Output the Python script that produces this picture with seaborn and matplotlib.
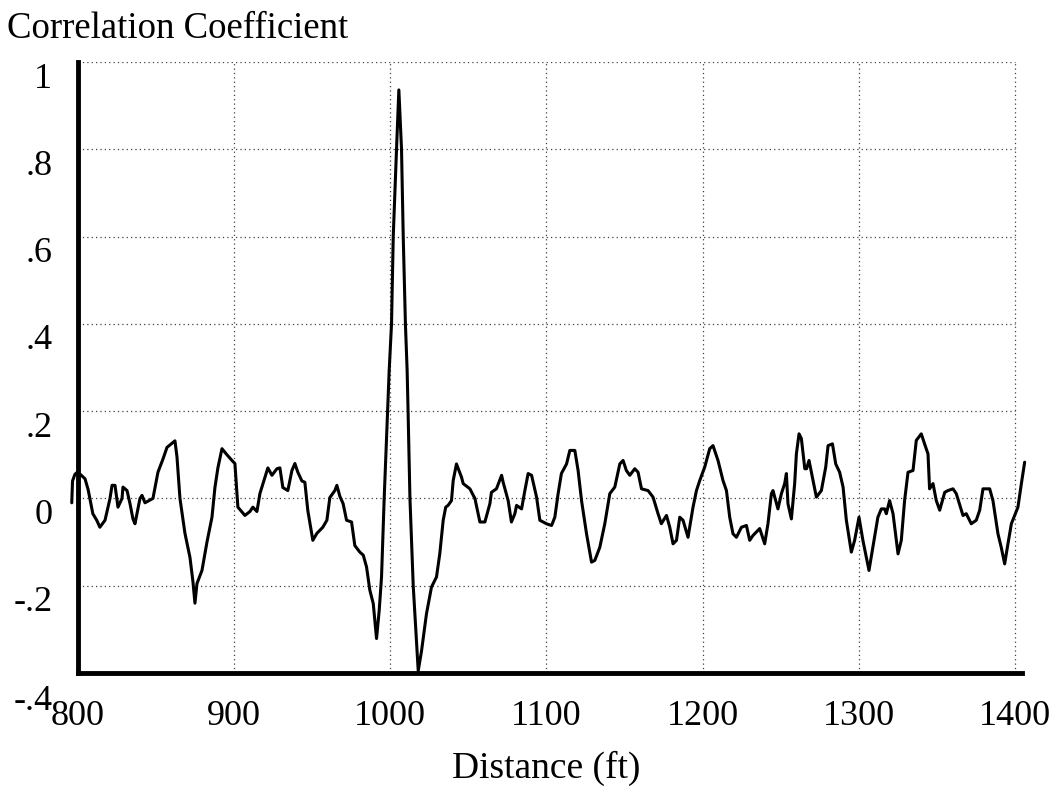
import numpy as np
import pandas as pd
import matplotlib
matplotlib.use("Agg")
import matplotlib.pyplot as plt
import matplotlib.transforms as mtransforms
from matplotlib.ticker import FuncFormatter
import seaborn as sns

# ---- data ----
distance_ft = [
    796.0, 796.5, 798.0, 799.5, 801.5, 804.5, 806.5, 809.5, 812.0, 814.0,
    817.3, 820.5, 821.8, 823.7, 825.6, 828.2, 828.8, 831.4, 833.3, 835.2,
    836.5, 839.7, 841.0, 842.9, 848.0, 851.2, 854.4, 857.0, 860.8, 862.1,
    863.4, 865.3, 868.5, 871.7, 873.6, 874.9, 876.2, 879.4, 882.6, 885.8,
    887.7, 889.6, 892.2, 895.4, 898.6, 900.5, 902.4, 906.9, 910.1, 912.0,
    914.6, 916.5, 919.7, 921.6, 924.2, 927.4, 929.3, 931.2, 934.4, 937.0,
    938.9, 940.8, 943.4, 945.3, 947.2, 950.4, 953.0, 956.8, 959.4, 961.3,
    964.5, 965.8, 967.7, 969.8, 972.0, 975.2, 977.3, 980.5, 982.7, 984.8,
    986.9, 989.1, 991.2, 992.9, 994.4, 996.1, 998.3, 999.3, 1000.8, 1001.9,
    1004.0, 1005.5, 1007.2, 1008.3, 1009.7, 1010.8, 1011.4, 1012.6, 1014.7, 1017.9,
    1020.0, 1023.2, 1026.4, 1029.6, 1031.7, 1033.9, 1035.5, 1037.0, 1039.2, 1040.3,
    1042.4, 1045.6, 1046.7, 1051.0, 1054.2, 1057.4, 1060.6, 1063.8, 1064.8, 1068.0,
    1071.3, 1072.3, 1075.5, 1077.6, 1079.8, 1080.9, 1084.1, 1086.2, 1088.3, 1090.5,
    1093.7, 1095.8, 1100.0, 1103.3, 1105.4, 1107.5, 1109.6, 1112.9, 1115.0, 1118.2,
    1120.3, 1122.5, 1125.7, 1128.9, 1131.0, 1134.2, 1137.4, 1140.6, 1143.8, 1147.0,
    1149.1, 1151.2, 1153.4, 1156.6, 1158.7, 1160.9, 1165.1, 1168.3, 1171.5, 1173.6,
    1176.9, 1179.0, 1181.1, 1183.3, 1185.4, 1187.5, 1190.7, 1193.9, 1196.1, 1198.2,
    1201.4, 1204.6, 1206.7, 1209.9, 1213.1, 1215.3, 1217.4, 1219.5, 1221.7, 1224.9,
    1228.1, 1230.2, 1232.3, 1236.6, 1239.8, 1241.9, 1244.1, 1245.1, 1248.3, 1250.5,
    1252.6, 1253.7, 1254.7, 1256.9, 1259.0, 1260.1, 1261.8, 1263.3, 1265.5, 1266.6,
    1268.2, 1270.8, 1272.9, 1276.1, 1278.9, 1280.4, 1283.2, 1285.3, 1287.8, 1290.0,
    1292.1, 1295.3, 1297.4, 1300.2, 1302.7, 1306.6, 1309.1, 1312.3, 1314.5, 1316.6,
    1317.7, 1319.8, 1322.0, 1325.2, 1327.3, 1329.4, 1331.6, 1334.8, 1336.9, 1340.1,
    1342.2, 1344.4, 1345.4, 1347.6, 1349.7, 1351.9, 1355.1, 1357.2, 1360.4, 1362.5,
    1366.8, 1368.9, 1372.1, 1375.3, 1377.5, 1379.6, 1383.9, 1386.0, 1389.2, 1391.3,
    1393.5, 1395.6, 1397.8, 1399.9, 1402.0, 1404.2, 1406.3,
]
correlation = [
    -0.010, 0.040, 0.055, 0.060, 0.055, 0.045, 0.020, -0.035, -0.050, -0.066,
    -0.050, 0.000, 0.030, 0.030, -0.020, 0.000, 0.026, 0.018, -0.012, -0.047,
    -0.058, 0.000, 0.007, -0.010, 0.000, 0.060, 0.090, 0.117, 0.128, 0.132,
    0.095, 0.000, -0.080, -0.135, -0.190, -0.240, -0.195, -0.165, -0.100, -0.043,
    0.025, 0.070, 0.114, 0.100, 0.087, 0.080, -0.020, -0.039, -0.030, -0.020,
    -0.030, 0.011, 0.048, 0.070, 0.053, 0.068, 0.070, 0.025, 0.018, 0.064,
    0.080, 0.060, 0.040, 0.037, -0.028, -0.096, -0.080, -0.066, -0.050, 0.002,
    0.018, 0.030, 0.005, -0.012, -0.050, -0.054, -0.108, -0.123, -0.130, -0.157,
    -0.210, -0.241, -0.321, -0.257, -0.180, 0.000, 0.200, 0.293, 0.400, 0.600,
    0.800, 0.936, 0.800, 0.600, 0.400, 0.293, 0.200, 0.000, -0.200, -0.395,
    -0.350, -0.264, -0.203, -0.180, -0.127, -0.050, -0.020, -0.016, -0.005, 0.041,
    0.079, 0.049, 0.034, 0.022, 0.000, -0.054, -0.054, -0.012, 0.014, 0.022,
    0.053, 0.037, -0.005, -0.054, -0.035, -0.016, -0.024, 0.018, 0.057, 0.053,
    0.003, -0.050, -0.058, -0.062, -0.043, 0.011, 0.057, 0.079, 0.110, 0.110,
    0.064, -0.005, -0.081, -0.146, -0.142, -0.112, -0.058, 0.011, 0.026, 0.079,
    0.087, 0.064, 0.053, 0.068, 0.060, 0.022, 0.018, 0.003, -0.035, -0.058,
    -0.039, -0.066, -0.104, -0.096, -0.043, -0.050, -0.089, -0.020, 0.018, 0.041,
    0.072, 0.114, 0.121, 0.087, 0.041, 0.018, -0.043, -0.081, -0.089, -0.066,
    -0.062, -0.096, -0.085, -0.069, -0.104, -0.058, 0.011, 0.018, -0.024, 0.011,
    0.034, 0.057, -0.012, -0.047, 0.034, 0.102, 0.148, 0.137, 0.068, 0.068,
    0.087, 0.041, 0.003, 0.018, 0.072, 0.121, 0.125, 0.079, 0.060, 0.026,
    -0.050, -0.123, -0.096, -0.043, -0.096, -0.165, -0.112, -0.043, -0.024, -0.024,
    -0.035, -0.005, -0.035, -0.127, -0.096, -0.005, 0.060, 0.064, 0.133, 0.148,
    0.125, 0.102, 0.022, 0.034, -0.005, -0.027, 0.014, 0.018, 0.022, 0.011,
    -0.039, -0.035, -0.058, -0.050, -0.027, 0.022, 0.022, -0.005, -0.081, -0.112,
    -0.150, -0.104, -0.058, -0.039, -0.020, 0.034, 0.083,
]
x_ticks = [800, 900, 1000, 1100, 1200, 1300, 1400]
y_ticks = [-0.4, -0.2, 0.0, 0.2, 0.4, 0.6, 0.8, 1.0]
x_label = "Distance (ft)"
y_label = "Correlation Coefficient"

df = pd.DataFrame({"distance": distance_ft, "corr": correlation})

sns.set_theme(style="white")
plt.rcParams["font.family"] = ["Liberation Serif", "DejaVu Serif"]

fig = plt.figure(figsize=(10.58, 7.93), dpi=100)
ax = fig.add_axes([78 / 1058, 1 - 673 / 793, (1022 - 78) / 1058, (673 - 62) / 793])

# grid (dotted), drawn from tick values
ax.hlines(y_ticks[1:], x_ticks[0], x_ticks[-1], colors="0.25", linestyles=(0, (1, 2.5)), linewidth=0.9, zorder=1)
ax.vlines(x_ticks[1:], y_ticks[0], y_ticks[-1], colors="0.25", linestyles=(0, (1, 2.5)), linewidth=0.9, zorder=1)

sns.lineplot(data=df, x="distance", y="corr", ax=ax, color="black", linewidth=2.2,
             estimator=None, sort=False, zorder=3)
for ln in ax.lines:
    ln.set_clip_on(False)

ax.set_xlim(800, 1404.6)
ax.set_ylim(-0.4, 1.0)
ax.set_xticks(x_ticks)
ax.set_yticks(y_ticks)

def yfmt(v, pos):
    if abs(v) < 1e-9:
        return "0"
    if abs(v - 1) < 1e-9:
        return "1"
    return f"{v:.1f}".replace("0.", ".")

ax.yaxis.set_major_formatter(FuncFormatter(yfmt))
ax.xaxis.set_major_formatter(FuncFormatter(lambda v, p: f"{int(round(v))}"))

for side in ["top", "right"]:
    ax.spines[side].set_visible(False)
for side in ["left", "bottom"]:
    ax.spines[side].set_color("black")
    ax.spines[side].set_linewidth(3.5)
    ax.spines[side].set_zorder(4)

ax.tick_params(axis="both", which="major", direction="inout", length=13, width=2,
               color="black", labelsize=26, labelcolor="black")
ax.tick_params(axis="x", pad=13)
ax.tick_params(axis="y", pad=12)
ax.set_xlabel("")
ax.set_ylabel("")
ax.set_facecolor("white")

fig.text(7 / 1058, 1 - 29 / 793, y_label, fontsize=26.5, ha="left", va="center", color="black")
fig.text(546 / 1058, 1 - 768 / 793, x_label, fontsize=27, ha="center", va="center", color="black")

# shift y tick labels slightly downward like the reference (by tick order)
fig.canvas.draw()
for i, tk in enumerate(ax.yaxis.get_major_ticks()[:len(y_ticks)]):
    dy = -24 if i == 0 else -13
    off = mtransforms.ScaledTranslation(0, dy / 100, fig.dpi_scale_trans)
    tk.label1.set_transform(tk.label1.get_transform() + off)

fig.savefig("out.png", dpi=100, facecolor="white")
